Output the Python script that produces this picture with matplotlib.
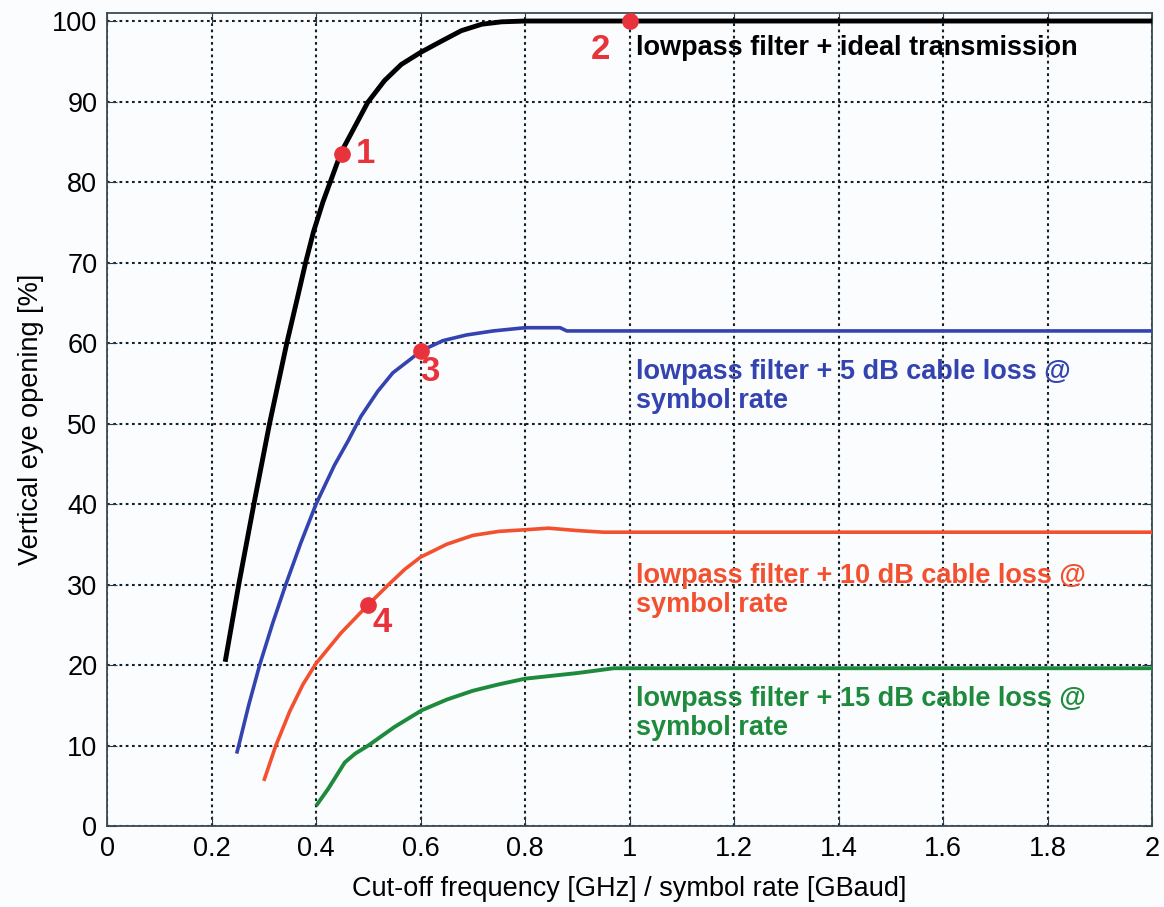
import numpy as np
import matplotlib.pyplot as plt

# curves (x = cut-off / symbol rate, y = eye opening %)
ideal_x = [0.226, 0.252, 0.281, 0.311, 0.344, 0.365, 0.380, 0.395, 0.413, 0.448, 0.499,
           0.531, 0.563, 0.600, 0.640, 0.678, 0.717, 0.755, 0.800, 2.0]
ideal_y = [20.4, 30.0, 40.0, 50.0, 60.0, 65.8, 70.0, 73.8, 77.5, 83.7, 89.9,
           92.6, 94.6, 96.1, 97.5, 98.8, 99.6, 99.9, 100.0, 100.0]

loss5_x = [0.248, 0.252, 0.271, 0.292, 0.317, 0.342, 0.371, 0.400, 0.435, 0.461, 0.486,
           0.518, 0.547, 0.583, 0.600, 0.643, 0.688, 0.739, 0.800, 0.867, 0.880, 1.0, 2.0]
loss5_y = [9.0, 10.0, 15.0, 20.0, 25.2, 30.0, 35.2, 40.0, 44.8, 47.8, 50.9,
           54.0, 56.3, 58.1, 59.0, 60.3, 61.0, 61.5, 61.9, 61.9, 61.5, 61.5, 61.5]

loss10_x = [0.300, 0.323, 0.350, 0.375, 0.400, 0.448, 0.500, 0.539, 0.570, 0.600, 0.650,
            0.700, 0.750, 0.800, 0.845, 0.900, 0.950, 2.0]
loss10_y = [5.6, 10.0, 14.3, 17.6, 20.2, 24.0, 27.5, 30.0, 31.9, 33.4, 35.0,
            36.1, 36.6, 36.8, 37.0, 36.7, 36.5, 36.5]

loss15_x = [0.400, 0.423, 0.455, 0.475, 0.500, 0.550, 0.603, 0.650, 0.700, 0.750, 0.800,
            0.900, 0.970, 2.0]
loss15_y = [2.5, 4.6, 7.9, 9.0, 10.0, 12.3, 14.4, 15.7, 16.8, 17.6, 18.3,
            19.0, 19.6, 19.6]

# numbered operating points
pts_x = [0.45, 1.0, 0.60, 0.50]
pts_y = [83.5, 100.0, 59.0, 27.5]
pts_lbl = ["1", "2", "3", "4"]

labels = ["lowpass filter + ideal transmission",
          "lowpass filter + 5 dB cable loss @\nsymbol rate",
          "lowpass filter + 10 dB cable loss @\nsymbol rate",
          "lowpass filter + 15 dB cable loss @\nsymbol rate"]

plt.rcParams['font.family'] = ['Liberation Sans', 'DejaVu Sans']

fig = plt.figure(figsize=(11.64, 9.07), dpi=100)
fig.patch.set_facecolor('#fbfcfe')
ax = fig.add_axes([0.092, 0.0893, 0.8977, 0.8964])
ax.set_facecolor('#fbfcfe')

black = 'k'
blue = '#3343b0'
red = '#f2502e'
green = '#1e8a3c'
mark = '#e8333c'

kw = dict(zorder=3, solid_joinstyle='round', solid_capstyle='butt')
ax.plot(ideal_x, ideal_y, color=black, lw=3.5, **kw)
ax.plot(loss5_x, loss5_y, color=blue, lw=2.6, **kw)
ax.plot(loss10_x, loss10_y, color=red, lw=2.6, **kw)
ax.plot(loss15_x, loss15_y, color=green, lw=2.8, **kw)

ax.plot(pts_x, pts_y, 'o', color=mark, ms=11, zorder=5, clip_on=False)

lbl_off = [(0.045, 0.0), (-0.055, -3.5), (0.017, -2.6), (0.026, -2.2)]
for x, y, t, (dx, dy) in zip(pts_x, pts_y, pts_lbl, lbl_off):
    ax.text(x + dx, y + dy, t, color=mark, fontsize=25, fontweight='bold',
            ha='center', va='center', zorder=6)

lx = 1.013
ax.text(lx, 96.6, labels[0], color=black, fontsize=19.5, fontweight='bold', va='center')
ax.text(lx, 54.6, labels[1], color=blue, fontsize=19.5, fontweight='bold', va='center',
        linespacing=1.15)
ax.text(lx, 29.2, labels[2], color=red, fontsize=19.5, fontweight='bold', va='center',
        linespacing=1.15)
ax.text(lx, 14.0, labels[3], color=green, fontsize=19.5, fontweight='bold', va='center',
        linespacing=1.15)

ax.set_xlim(0, 2)
ax.set_ylim(0, 101)
ax.set_xticks(np.arange(0, 2.01, 0.2))
ax.set_xticklabels(["0", "0.2", "0.4", "0.6", "0.8", "1", "1.2", "1.4", "1.6", "1.8", "2"])
ax.set_yticks(np.arange(0, 101, 10))
ax.grid(True, color='#10202a', linestyle=(0, (1.3, 1.7)), linewidth=1.5)
ax.tick_params(direction='in', top=True, right=True, length=7, labelsize=19.5, pad=7,
               color='#2a3a45')
for s in ax.spines.values():
    s.set_color('#3a4a55')
    s.set_linewidth(1.3)

ax.set_xlabel("Cut-off frequency [GHz] / symbol rate [GBaud]", fontsize=19.5, labelpad=10)
ax.set_ylabel("Vertical eye opening [%]", fontsize=19.5, labelpad=6)

plt.savefig("out.png", dpi=100, facecolor=fig.get_facecolor())
